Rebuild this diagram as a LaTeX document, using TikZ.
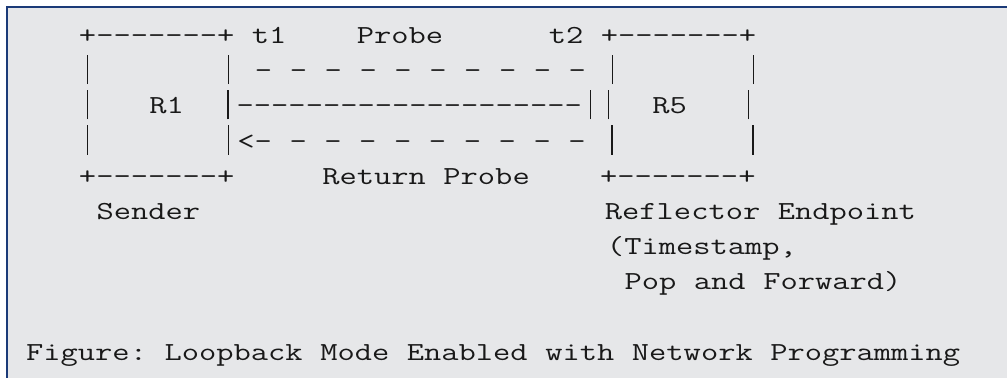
\documentclass[tikz,border=0pt]{standalone}
\usepackage{fontspec}
\setmonofont{Latin Modern Mono}[FakeStretch=1.289]
\newlength\cw
\setlength\cw{17.6pt}
\newcommand\gap[1]{\hspace*{#1\cw}}
\newcommand\vbar{\makebox[\cw]{\rule[-5.5pt]{1.3pt}{29.5pt}}}
\definecolor{pagebg}{HTML}{E6E7E9}
\definecolor{rulecol}{HTML}{1B3A78}
\tikzset{asciiline/.style={anchor=base west, inner sep=0pt, font=\fontsize{26}{30}\selectfont\ttfamily, text=black!90}}
\begin{document}
\begin{tikzpicture}[x=1pt,y=-1pt]
\useasboundingbox (0,0) rectangle (1007,378);
\fill[white] (0,0) rectangle (1007,378);
\fill[pagebg] (8,8) rectangle (1007,378);
\fill[rulecol] (6,6) rectangle (1007,8);
\fill[rulecol] (6,6) rectangle (8,378);
\node[asciiline] (l1) at (26,43.5) {\gap{3}+-------+\gap{1}t1\gap{4}Probe\gap{6}t2\gap{1}+-------+};
\node[asciiline] (l2) at (26,78.7) {\gap{3}\vbar\gap{7}\vbar\gap{1}-\gap{1}-\gap{1}-\gap{1}-\gap{1}-\gap{1}-\gap{1}-\gap{1}-\gap{1}-\gap{1}-\gap{1}\vbar\gap{7}\vbar};
\node[asciiline] (l3) at (26,113.8) {\gap{3}\vbar\gap{3}R1\gap{2}\vbar--------------------\vbar\vbar\gap{2}R5\gap{3}\vbar};
\node[asciiline] (l4) at (26,149.0) {\gap{3}\vbar\gap{7}\vbar<-\gap{1}-\gap{1}-\gap{1}-\gap{1}-\gap{1}-\gap{1}-\gap{1}-\gap{1}-\gap{1}-\gap{1}\vbar\gap{7}\vbar};
\node[asciiline] (l5) at (26,184.2) {\gap{3}+-------+\gap{5}Return\gap{1}Probe\gap{4}+-------+};
\node[asciiline] (l6) at (26,219.4) {\gap{4}Sender\gap{23}Reflector\gap{1}Endpoint};
\node[asciiline] (l7) at (26,254.5) {\gap{33}(Timestamp,};
\node[asciiline] (l8) at (26,289.7) {\gap{34}Pop\gap{1}and\gap{1}Forward)};
\node[asciiline] (l10) at (26,360.0) {Figure:\gap{1}Loopback\gap{1}Mode\gap{1}Enabled\gap{1}with\gap{1}Network\gap{1}Programming};
\end{tikzpicture}
\end{document}
